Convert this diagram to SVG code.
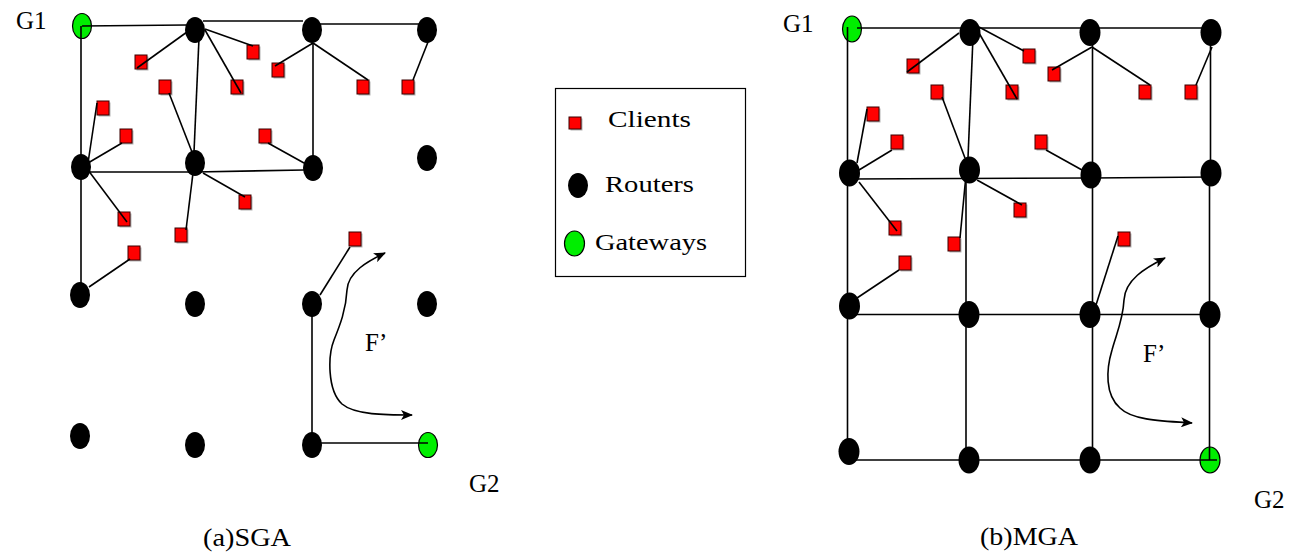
<svg xmlns="http://www.w3.org/2000/svg" xmlns:xlink="http://www.w3.org/1999/xlink" width="1294" height="553" viewBox="0 0 1294 553">
  <style>
    .router { fill: #000; }
    .gateway { fill: #00ee00; stroke: #000; stroke-width: 1.2; }
    .client { fill: #ff0000; stroke: #3a0000; stroke-width: 1; }
    .shadow { fill: #777; opacity: 0.55; }
    .link { stroke: #000; stroke-width: 1.6; fill: none; }
    .flow { stroke: #000; stroke-width: 1.6; fill: none; marker-start: url(#arrow); marker-end: url(#arrow); }
    .label { font-family: "Liberation Serif", "Times New Roman", serif; font-size: 25px; fill: #000; }
    .legend { font-family: "Liberation Serif", "Times New Roman", serif; font-size: 24px; fill: #000; }
  </style>
  <defs>
    <marker id="arrow" viewBox="0 0 12 10" refX="11" refY="5" markerWidth="12" markerHeight="10" markerUnits="userSpaceOnUse" orient="auto-start-reverse">
      <path d="M0,0 L12,5 L0,10 L3,5 Z" fill="#000"/>
    </marker>
    <g id="client-sq">
      <rect class="shadow" x="1.5" y="1.5" width="12" height="14"/>
      <rect class="client" x="0" y="0" width="12" height="14"/>
    </g>
  </defs>
  <rect width="1294" height="553" fill="#fff"/>

  <!-- (a) single gateway network -->
  <g id="sga">
    <g id="a-nodes">
      <g id="a-g1"><ellipse class="gateway" cx="82" cy="26" rx="9.5" ry="12.5"/></g>
      <g id="a-r12"><ellipse class="router" cx="195" cy="30" rx="10" ry="13"/></g>
      <g id="a-r13"><ellipse class="router" cx="312" cy="30" rx="10" ry="13"/></g>
      <g id="a-r14"><ellipse class="router" cx="427" cy="30" rx="10" ry="13"/></g>
      <g id="a-r21"><ellipse class="router" cx="81" cy="167" rx="10" ry="13"/></g>
      <g id="a-r22"><ellipse class="router" cx="195" cy="163" rx="10" ry="13"/></g>
      <g id="a-r23"><ellipse class="router" cx="313" cy="168" rx="10" ry="13"/></g>
      <g id="a-r24"><ellipse class="router" cx="427" cy="158" rx="10" ry="13"/></g>
      <g id="a-r31"><ellipse class="router" cx="80" cy="295" rx="10" ry="13"/></g>
      <g id="a-r32"><ellipse class="router" cx="195" cy="304" rx="10" ry="13"/></g>
      <g id="a-r33"><ellipse class="router" cx="312" cy="304" rx="10" ry="13"/></g>
      <g id="a-r34"><ellipse class="router" cx="427" cy="304" rx="10" ry="13"/></g>
      <g id="a-r41"><ellipse class="router" cx="80" cy="436" rx="10" ry="13"/></g>
      <g id="a-r42"><ellipse class="router" cx="195" cy="445" rx="10" ry="13"/></g>
      <g id="a-r43"><ellipse class="router" cx="312" cy="445" rx="10" ry="13"/></g>
      <g id="a-g2"><ellipse class="gateway" cx="428" cy="445" rx="9.5" ry="12.5"/></g>
      <g id="a-c1"><use xlink:href="#client-sq" x="135" y="55"/></g>
      <g id="a-c2"><use xlink:href="#client-sq" x="159" y="80"/></g>
      <g id="a-c3"><use xlink:href="#client-sq" x="247" y="45"/></g>
      <g id="a-c4"><use xlink:href="#client-sq" x="231" y="80"/></g>
      <g id="a-c5"><use xlink:href="#client-sq" x="272" y="63"/></g>
      <g id="a-c6"><use xlink:href="#client-sq" x="357" y="80"/></g>
      <g id="a-c7"><use xlink:href="#client-sq" x="402" y="80"/></g>
      <g id="a-c8"><use xlink:href="#client-sq" x="97" y="101"/></g>
      <g id="a-c9"><use xlink:href="#client-sq" x="120" y="129"/></g>
      <g id="a-c10"><use xlink:href="#client-sq" x="259" y="129"/></g>
      <g id="a-c11"><use xlink:href="#client-sq" x="118" y="212"/></g>
      <g id="a-c12"><use xlink:href="#client-sq" x="239" y="195"/></g>
      <g id="a-c13"><use xlink:href="#client-sq" x="175" y="228"/></g>
      <g id="a-c14"><use xlink:href="#client-sq" x="128" y="246"/></g>
      <g id="a-c15"><use xlink:href="#client-sq" x="349" y="232"/></g>
    </g>
    <g id="a-links">
      <!-- router backbone -->
      <path class="link" d="M82,26 L186,25"/>
      <path class="link" d="M203,21 L303,21"/>
      <path class="link" d="M320,24 L427,24"/>
      <path class="link" d="M81,26 L81,292"/>
      <path class="link" d="M199,38 L194,152"/>
      <path class="link" d="M313,43 L313,156"/>
      <path class="link" d="M88,172 L195,172 L304,170"/>
      <path class="link" d="M312,310 L312,445"/>
      <path class="link" d="M312,443 L428,443"/>
      <!-- client attachments -->
      <path class="link" d="M187,32 L137,68"/>
      <path class="link" d="M169,93 L192,152"/>
      <path class="link" d="M205,29 L253,46"/>
      <path class="link" d="M205,30 L241,93"/>
      <path class="link" d="M313,43 L275,66"/>
      <path class="link" d="M313,43 L368,80"/>
      <path class="link" d="M428,42 L413,80"/>
      <path class="link" d="M88,163 L97,103"/>
      <path class="link" d="M88,163 L122,143"/>
      <path class="link" d="M268,143 L304,163"/>
      <path class="link" d="M88,170 L127,222"/>
      <path class="link" d="M203,173 L245,197"/>
      <path class="link" d="M193,173 L186,230"/>
      <path class="link" d="M89,287 L130,259"/>
      <path class="link" d="M350,247 L320,295"/>
      <!-- traffic flow -->
      <path class="flow" d="M385,253 C368,261 348,272 347,290 C346,310 340,325 334,340 C328,355 327,390 342,404 C355,415 385,415 412,415"/>
    </g>
    <text class="label" x="16" y="29">G1</text>
    <text class="label" x="469" y="492">G2</text>
    <text class="label" x="365" y="351">F’</text>
    <text class="label" x="203" y="546" textLength="88" lengthAdjust="spacingAndGlyphs">(a)SGA</text>
  </g>

  <!-- legend -->
  <g id="legend">
    <rect x="555.5" y="88.5" width="190" height="188" fill="none" stroke="#000" stroke-width="1.2"/>
    <g id="legend-client">
      <rect class="shadow" x="570.5" y="118.5" width="12" height="12"/>
      <rect class="client" x="569" y="117" width="12" height="12"/>
      <text class="legend" x="608" y="127" textLength="83" lengthAdjust="spacingAndGlyphs">Clients</text>
    </g>
    <g id="legend-router">
      <ellipse class="router" cx="578" cy="185.5" rx="10" ry="12.5"/>
      <text class="legend" x="605" y="192" textLength="89" lengthAdjust="spacingAndGlyphs">Routers</text>
    </g>
    <g id="legend-gateway">
      <ellipse class="gateway" cx="574.5" cy="243.5" rx="10" ry="12.5"/>
      <text class="legend" x="595" y="250" textLength="112" lengthAdjust="spacingAndGlyphs">Gateways</text>
    </g>
  </g>

  <!-- (b) multiple gateway network -->
  <g id="mga">
    <g id="b-nodes">
      <g id="b-g1"><ellipse class="gateway" cx="852" cy="29" rx="9.5" ry="13"/></g>
      <g id="b-r12"><ellipse class="router" cx="970" cy="32.5" rx="10.5" ry="13.5"/></g>
      <g id="b-r13"><ellipse class="router" cx="1090" cy="32.5" rx="10.5" ry="13.5"/></g>
      <g id="b-r14"><ellipse class="router" cx="1211" cy="32.5" rx="10.5" ry="13.5"/></g>
      <g id="b-r21"><ellipse class="router" cx="849.5" cy="173" rx="10.5" ry="13.5"/></g>
      <g id="b-r22"><ellipse class="router" cx="969.5" cy="170" rx="10.5" ry="13.5"/></g>
      <g id="b-r23"><ellipse class="router" cx="1091" cy="175" rx="10.5" ry="13.5"/></g>
      <g id="b-r24"><ellipse class="router" cx="1211" cy="173" rx="10.5" ry="13.5"/></g>
      <g id="b-r31"><ellipse class="router" cx="849.5" cy="306" rx="10.5" ry="13.5"/></g>
      <g id="b-r32"><ellipse class="router" cx="969" cy="314.5" rx="10.5" ry="13.5"/></g>
      <g id="b-r33"><ellipse class="router" cx="1090" cy="314.5" rx="10.5" ry="13.5"/></g>
      <g id="b-r34"><ellipse class="router" cx="1210" cy="314.5" rx="10.5" ry="13.5"/></g>
      <g id="b-r41"><ellipse class="router" cx="849" cy="451.5" rx="10.5" ry="13.5"/></g>
      <g id="b-r42"><ellipse class="router" cx="969" cy="460" rx="10.5" ry="13.5"/></g>
      <g id="b-r43"><ellipse class="router" cx="1090" cy="460" rx="10.5" ry="13.5"/></g>
      <g id="b-g2"><ellipse class="gateway" cx="1210" cy="460" rx="10" ry="13"/></g>
      <g id="b-c1"><use xlink:href="#client-sq" x="907" y="59"/></g>
      <g id="b-c2"><use xlink:href="#client-sq" x="931" y="85"/></g>
      <g id="b-c3"><use xlink:href="#client-sq" x="1023" y="49"/></g>
      <g id="b-c4"><use xlink:href="#client-sq" x="1006" y="85"/></g>
      <g id="b-c5"><use xlink:href="#client-sq" x="1048" y="67"/></g>
      <g id="b-c6"><use xlink:href="#client-sq" x="1139" y="85"/></g>
      <g id="b-c7"><use xlink:href="#client-sq" x="1185" y="85"/></g>
      <g id="b-c8"><use xlink:href="#client-sq" x="867" y="107"/></g>
      <g id="b-c9"><use xlink:href="#client-sq" x="891" y="135"/></g>
      <g id="b-c10"><use xlink:href="#client-sq" x="1035" y="135"/></g>
      <g id="b-c11"><use xlink:href="#client-sq" x="889" y="221"/></g>
      <g id="b-c12"><use xlink:href="#client-sq" x="1014" y="203"/></g>
      <g id="b-c13"><use xlink:href="#client-sq" x="948" y="237"/></g>
      <g id="b-c14"><use xlink:href="#client-sq" x="899" y="256"/></g>
      <g id="b-c15"><use xlink:href="#client-sq" x="1118" y="232"/></g>
    </g>
    <g id="b-links">
      <!-- router grid -->
      <path class="link" d="M857,28 L1211,28"/>
      <path class="link" d="M847.5,27 L847.5,452"/>
      <path class="link" d="M973,37 L968,158"/>
      <path class="link" d="M966,170 L966,460"/>
      <path class="link" d="M1092.5,32 L1092.5,460"/>
      <path class="link" d="M1210.5,32 L1210.5,173 L1209.5,173 L1209.5,460"/>
      <path class="link" d="M849,179 L1091,178 L1211,177"/>
      <path class="link" d="M849,314.5 L1210,314.5"/>
      <path class="link" d="M849,460 L1217,460"/>
      <!-- client attachments -->
      <path class="link" d="M959,33 L907,72"/>
      <path class="link" d="M942,97 L965,158"/>
      <path class="link" d="M979,27 L1024,51"/>
      <path class="link" d="M979,33 L1017,99"/>
      <path class="link" d="M1092,47 L1052,70"/>
      <path class="link" d="M1092,47 L1150,85"/>
      <path class="link" d="M1212,47 L1196,85"/>
      <path class="link" d="M857,163 L867,109"/>
      <path class="link" d="M859,170 L892,150"/>
      <path class="link" d="M1046,150 L1082,170"/>
      <path class="link" d="M859,182 L897,231"/>
      <path class="link" d="M977,180 L1022,205"/>
      <path class="link" d="M966,175 L960,238"/>
      <path class="link" d="M857,298 L899,270"/>
      <path class="link" d="M1118,236 L1096,305"/>
      <!-- traffic flow -->
      <path class="flow" d="M1165,258 C1145,268 1125,280 1124,300 C1123,320 1116,335 1112,350 C1106,370 1105,395 1120,408 C1132,420 1160,421 1192,423"/>
    </g>
    <text class="label" x="783" y="32">G1</text>
    <text class="label" x="1254" y="508">G2</text>
    <text class="label" x="1143" y="362">F’</text>
    <text class="label" x="980" y="545" textLength="98" lengthAdjust="spacingAndGlyphs">(b)MGA</text>
  </g>
</svg>
